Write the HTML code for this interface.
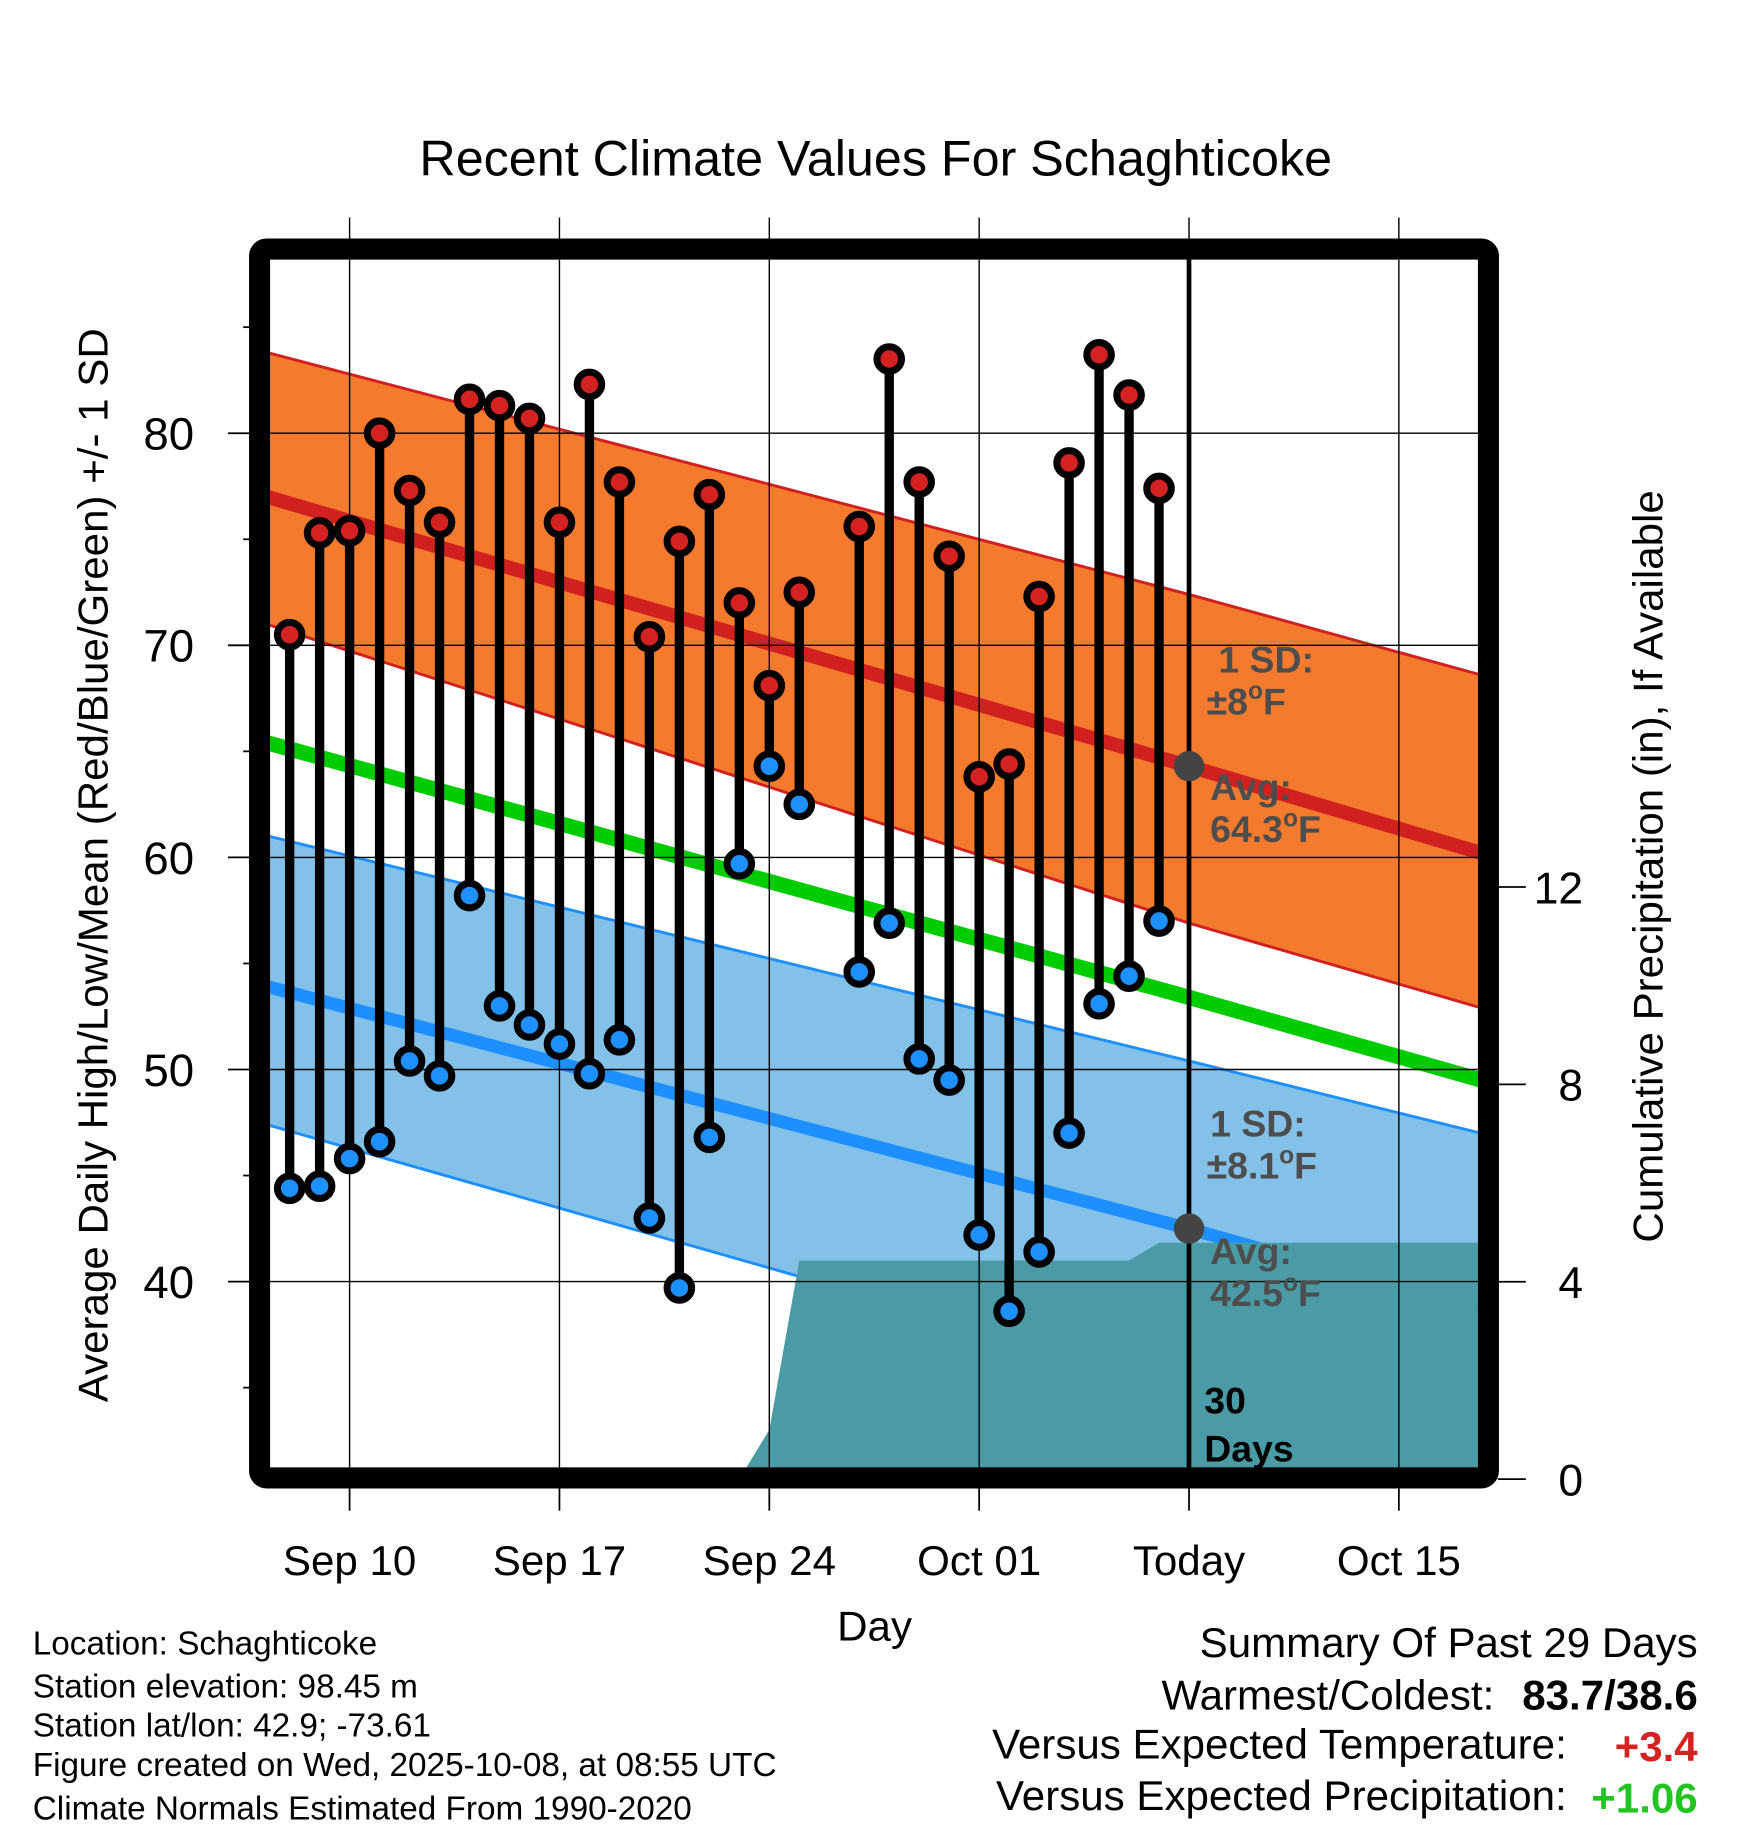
<!DOCTYPE html>
<html><head><meta charset="utf-8"><style>
html,body{margin:0;padding:0;background:#fff;}
svg{display:block;font-family:"Liberation Sans",sans-serif;}
</style></head><body>
<svg id="chart" width="1748" height="1828" viewBox="0 0 1495 1563.4" xmlns="http://www.w3.org/2000/svg">
<defs><clipPath id="plotclip"><rect x="231" y="222" width="1033" height="1034"/></clipPath></defs>
<text x="749" y="150" font-size="43" text-anchor="middle">Recent Climate Values For Schaghticoke</text>
<g id="plot" clip-path="url(#plotclip)"></g>
<g id="overlay"></g>
<rect x="222" y="213" width="1051" height="1051" rx="6" fill="none" stroke="#000" stroke-width="18"/>
<g id="axes"></g>
<text transform="translate(92,740) rotate(-90)" font-size="36" text-anchor="middle">Average Daily High/Low/Mean (Red/Blue/Green) +/- 1 SD</text>
<text transform="translate(1422,741) rotate(-90)" font-size="36" text-anchor="middle">Cumulative Precipitation (in), If Available</text>
<text x="748" y="1403" font-size="36" text-anchor="middle">Day</text>
<g font-size="28.5">
<text x="28" y="1415">Location: Schaghticoke</text>
<text x="28" y="1452">Station elevation: 98.45 m</text>
<text x="28" y="1485">Station lat/lon: 42.9; -73.61</text>
<text x="28" y="1519">Figure created on Wed, 2025-10-08, at 08:55 UTC</text>
<text x="28" y="1556">Climate Normals Estimated From 1990-2020</text>
</g>
<g font-size="36">
<text x="1452" y="1417" text-anchor="end">Summary Of Past 29 Days</text>
<text x="1278" y="1462" text-anchor="end">Warmest/Coldest:</text>
<text x="1452" y="1462" text-anchor="end" font-weight="bold">83.7/38.6</text>
<text x="1340" y="1504" text-anchor="end">Versus Expected Temperature:</text>
<text x="1452" y="1506" text-anchor="end" font-weight="bold" fill="#d42121">+3.4</text>
<text x="1340" y="1548" text-anchor="end">Versus Expected Precipitation:</text>
<text x="1452" y="1550" text-anchor="end" font-weight="bold" fill="#22c422">+1.06</text>
</g>
</svg>
<script>
// days relative to Sep 10 (0 = Sep 10, 28 = Today Oct 08)
const xTickDays=[0,7,14,21,28,35];
const xTickLabels=["Sep 10","Sep 17","Sep 24","Oct 01","Today","Oct 15"];
const yTicks=[40,50,60,70,80];
const yMinorTicks=[35,45,55,65,75,85];
const precipTicks=[0,4,8,12];
const normDays=[-3,28,38];
const normHigh=[77.1,64.3,60.1];
const normHighUp=[83.9,72.4,68.5];
const normHighLo=[71.1,56.9,52.8];
const normMean=[65.5,53.4,49.4];
const normLow=[54.0,42.5,38.5];
const normLowUp=[61.1,50.4,46.9];
const normLowLo=[47.5,35.0,31.0];
const obsDays=[-2,-1,0,1,2,3,4,5,6,7,8,9,10,11,12,13,14,15,17,18,19,20,21,22,23,24,25,26,27];
const obsHigh=[70.5,75.3,75.4,80.0,77.3,75.8,81.6,81.3,80.7,75.8,82.3,77.7,70.4,74.9,77.1,72.0,68.1,72.5,75.6,83.5,77.7,74.2,63.8,64.4,72.3,78.6,83.7,81.8,77.4];
const obsLow=[44.4,44.5,45.8,46.6,50.4,49.7,58.2,53.0,52.1,51.2,49.8,51.4,43.0,39.7,46.8,59.7,64.3,62.5,54.6,56.9,50.5,49.5,42.2,38.6,41.4,47.0,53.1,54.4,57.0];
const precipDays=[13,14,15,16,17,18,19,20,21,22,23,24,25,26,27,28,38];
const precipVals=[0,1.0,4.43,4.43,4.43,4.43,4.43,4.43,4.43,4.43,4.43,4.43,4.43,4.43,4.79,4.79,4.79];

const NS="http://www.w3.org/2000/svg";
const X=d=>299+d*25.64;
const Y=v=>370.5+(80-v)*18.14;
const P=p=>1265-p*42.2;
function mk(parent,tag,attrs){const e=document.createElementNS(NS,tag);for(const k in attrs)e.setAttribute(k,attrs[k]);parent.appendChild(e);return e;}
const plot=document.getElementById('plot'),ov=document.getElementById('overlay'),ax=document.getElementById('axes');
function pts(ds,vs){return ds.map((d,i)=>X(d).toFixed(1)+','+Y(vs[i]).toFixed(1));}
function band(up,lo,fill,name){
  const p=pts(normDays,up).concat(pts(normDays,lo).reverse());
  const e=mk(plot,'polygon',{points:p.join(' '),fill:fill});
  
  
}
function line(vs,col,w,name){
  const e=mk(plot,'polyline',{points:pts(normDays,vs).join(' '),fill:'none',stroke:col,'stroke-width':w});
  
  
}
band(normLowUp,normLowLo,'#84c1e8','low-sd-band');
line(normLowUp,'#1e8fff',2.5,'low-sd-upper');
line(normLowLo,'#1e8fff',2.5,'low-sd-lower');
line(normLow,'#1e8fff',11,'normal-low-line');
band(normHighUp,normHighLo,'#f47a2e','high-sd-band');
line(normHighUp,'#d02020',2.5,'high-sd-upper');
line(normHighLo,'#d02020',2.5,'high-sd-lower');
line(normHigh,'#d02020',12,'normal-high-line');
line(normMean,'#00cc00',13,'normal-mean-line');
{
  const p=precipDays.map((d,i)=>X(d).toFixed(1)+','+P(precipVals[i]).toFixed(1));
  p.push(X(precipDays[precipDays.length-1]).toFixed(1)+','+P(0));
  p.push(X(precipDays[0]).toFixed(1)+','+P(0));
  const e=mk(plot,'polygon',{points:p.join(' '),fill:'#4a9ba5'});
  
  
}
yTicks.forEach(v=>{const e=mk(plot,'line',{x1:231,x2:1264,y1:Y(v),y2:Y(v),stroke:'#000','stroke-width':1.2});
  
  });
xTickDays.forEach(d=>{const e=mk(plot,'line',{x1:X(d),x2:X(d),y1:222,y2:1256,stroke:'#000','stroke-width':1.2});
  
  });
obsDays.forEach((d,i)=>{
  const g=mk(plot,'g',{});
  
  
  mk(g,'line',{x1:X(d),x2:X(d),y1:Y(obsHigh[i]),y2:Y(obsLow[i]),stroke:'#000','stroke-width':8});
  const h=mk(g,'circle',{cx:X(d),cy:Y(obsHigh[i]),r:10.5,fill:'#d42121',stroke:'#000','stroke-width':6});
  
  
  const l=mk(g,'circle',{cx:X(d),cy:Y(obsLow[i]),r:10.5,fill:'#1e90ff',stroke:'#000','stroke-width':6});
  
  
});
{
  const t=mk(ov,'line',{x1:X(28),x2:X(28),y1:222,y2:1256,stroke:'#000','stroke-width':4});
  
  
  const a=mk(ov,'circle',{cx:X(28),cy:Y(normHigh[1]),r:13,fill:'#444'});
  
  
  const b=mk(ov,'circle',{cx:X(28),cy:Y(normLow[1]),r:13,fill:'#444'});
  
  
}
function lbl(x,y,txt,deg,col,name){
  const e=mk(ov,'text',{x:x,y:y,'font-size':32,'font-weight':'bold',fill:col});
  
  
  if(deg){e.appendChild(document.createTextNode(txt));const s=mk(e,'tspan',{'font-size':21,dy:-13});s.textContent='o';const f=mk(e,'tspan',{dy:13});f.textContent='F';}
  else e.textContent=txt;
}
lbl(1042,575,'1 SD:',false,'#4d4d4d','high-sd-label');
lbl(1032,611,'\u00b18',true,'#4d4d4d','high-sd-value');
lbl(1035,684,'Avg:',false,'#4d4d4d','high-avg-label');
lbl(1035,720,'64.3',true,'#4d4d4d','high-avg-value');
lbl(1035,972,'1 SD:',false,'#4d4d4d','low-sd-label');
lbl(1032,1008,'\u00b18.1',true,'#4d4d4d','low-sd-value');
lbl(1035,1081,'Avg:',false,'#4d4d4d','low-avg-label');
lbl(1035,1117,'42.5',true,'#4d4d4d','low-avg-value');
lbl(1030,1209,'30',false,'#000','days-count');
lbl(1030,1250,'Days',false,'#000','days-label');
yTicks.forEach(v=>{
  const t=mk(ax,'line',{x1:195,x2:214,y1:Y(v),y2:Y(v),stroke:'#000','stroke-width':1.5});
  
  
  const e=mk(ax,'text',{x:166,y:Y(v)+14,'font-size':39,'text-anchor':'end'});
  
  
  e.textContent=v;
});
yMinorTicks.forEach(v=>{
  const t=mk(ax,'line',{x1:208,x2:214,y1:Y(v),y2:Y(v),stroke:'#000','stroke-width':1.5});
  
  
});
precipTicks.forEach(p=>{
  const t=mk(ax,'line',{x1:1281,x2:1305,y1:P(p),y2:P(p),stroke:'#000','stroke-width':1.5});
  
  
  const e=mk(ax,'text',{x:1354,y:P(p)+14,'font-size':38,'text-anchor':'end'});
  
  
  e.textContent=p;
});
xTickDays.forEach((d,i)=>{
  const t1=mk(ax,'line',{x1:X(d),x2:X(d),y1:186,y2:213,stroke:'#000','stroke-width':1.2});
  
  
  const t2=mk(ax,'line',{x1:X(d),x2:X(d),y1:1264,y2:1292,stroke:'#000','stroke-width':1.5});
  
  
  const e=mk(ax,'text',{x:X(d),y:1347,'font-size':36,'text-anchor':'middle'});
  
  
  e.textContent=xTickLabels[i];
});
</script>
</body></html>
